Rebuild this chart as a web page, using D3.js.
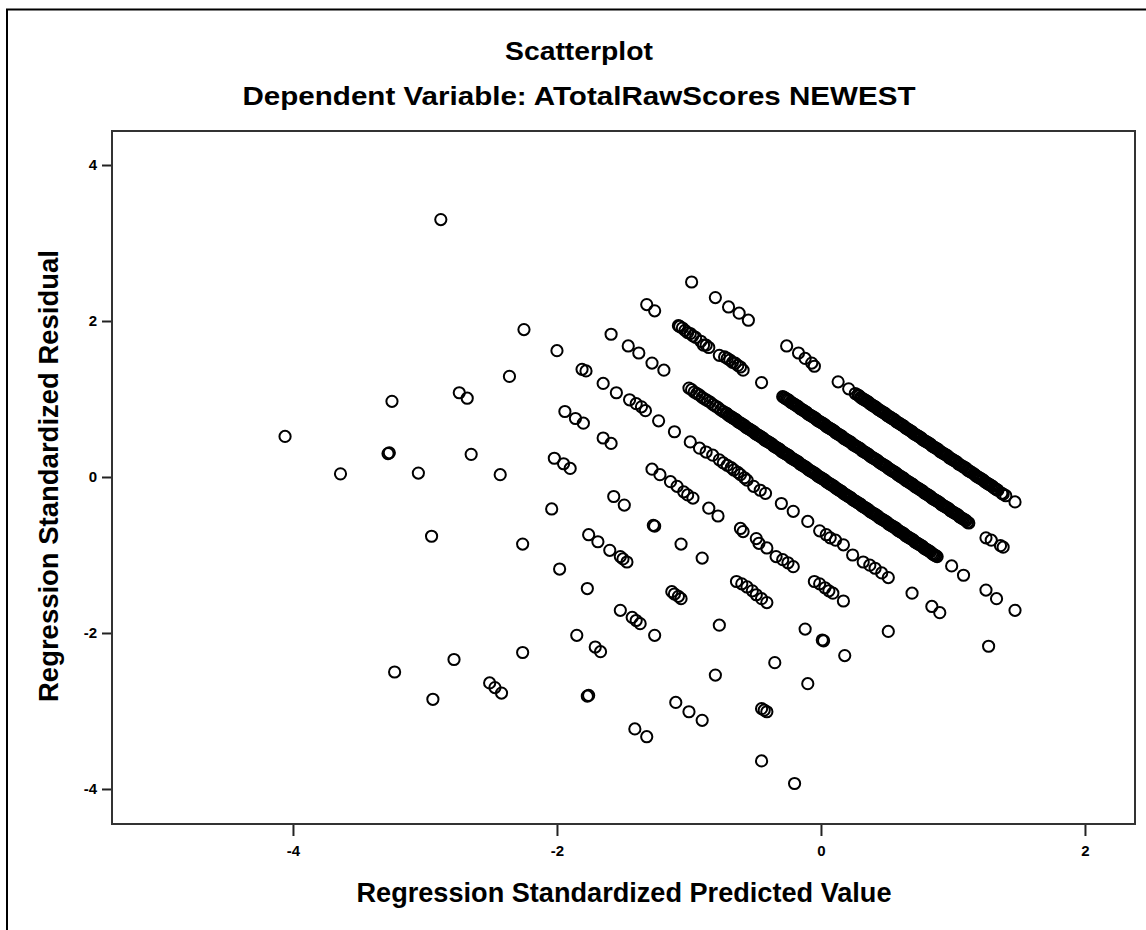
<!DOCTYPE html>
<html>
<head>
<meta charset="utf-8">
<script src="https://cdn.jsdelivr.net/npm/d3@7"></script>
<style>
  body { margin: 0; background: #fff; }
  text { font-family: Arial, "Liberation Sans", sans-serif; }
</style>
</head>
<body>
<div id="scatterplot"></div>
<script>
// Residuos padronizados x valores previstos padronizados
// cada "line_n" e uma faixa diagonal (um valor observado da variavel dependente)

let line_1 = [
    [-0.98,2.50],[-0.80,2.30],[-0.70,2.18],[-0.62,2.10],[-0.55,2.01],
    [-0.26,1.68],[-0.17,1.59],[-0.12,1.52],[-0.07,1.46],[-0.05,1.42],
    [0.13,1.22],[0.21,1.13],[0.26,1.07],
    [0.28,1.05],[0.29,1.04],[0.30,1.02],[0.31,1.01],[0.32,1.00],[0.33,0.99],[0.34,0.98],[0.35,0.97],
    [0.36,0.96],[0.37,0.94],[0.38,0.93],[0.39,0.92],[0.40,0.91],[0.41,0.90],[0.42,0.89],[0.43,0.87],
    [0.44,0.86],[0.45,0.85],[0.46,0.84],[0.47,0.83],[0.48,0.82],[0.49,0.81],[0.50,0.79],[0.51,0.78],
    [0.52,0.77],[0.53,0.76],[0.54,0.75],[0.55,0.74],[0.56,0.73],[0.57,0.71],[0.58,0.70],[0.59,0.69],
    [0.60,0.68],[0.61,0.67],[0.62,0.66],[0.63,0.65],[0.64,0.63],[0.65,0.62],[0.66,0.61],[0.67,0.60],
    [0.68,0.59],[0.69,0.58],[0.70,0.56],[0.71,0.55],[0.72,0.54],[0.73,0.53],[0.74,0.52],[0.75,0.51],
    [0.76,0.50],[0.77,0.48],[0.78,0.47],[0.79,0.46],[0.80,0.45],[0.81,0.44],[0.82,0.43],[0.83,0.42],
    [0.84,0.40],[0.85,0.39],[0.86,0.38],[0.87,0.37],[0.88,0.36],[0.89,0.35],[0.90,0.33],[0.91,0.32],
    [0.92,0.31],[0.93,0.30],[0.94,0.29],[0.95,0.28],[0.96,0.27],[0.97,0.25],[0.98,0.24],[0.99,0.23],
    [1.00,0.22],[1.01,0.21],[1.02,0.20],[1.03,0.19],[1.04,0.17],[1.05,0.16],[1.07,0.14],[1.08,0.13],
    [1.09,0.12],[1.10,0.11],[1.11,0.09],[1.12,0.08],[1.13,0.07],[1.14,0.06],[1.16,0.04],[1.17,0.02],
    [1.18,0.01],[1.19,0.00],[1.20,-0.01],[1.21,-0.02],[1.22,-0.03],[1.23,-0.04],[1.24,-0.06],
    [1.25,-0.07],[1.26,-0.08],[1.27,-0.09],[1.28,-0.10],[1.29,-0.11],[1.30,-0.12],[1.31,-0.14],
    [1.32,-0.15],[1.33,-0.16],[1.34,-0.17],[1.37,-0.21],[1.38,-0.22],[1.40,-0.24],[1.47,-0.32]
]

let line_2 = [
    [-1.32,2.21],[-1.26,2.13],
    [-1.08,1.94],[-1.07,1.93],[-1.05,1.91],[-1.03,1.88],[-1.01,1.85],[-0.99,1.84],[-0.97,1.81],
    [-0.95,1.79],[-0.91,1.74],[-0.89,1.69],[-0.87,1.69],[-0.85,1.66],[-0.77,1.56],[-0.73,1.54],
    [-0.71,1.52],[-0.69,1.50],[-0.67,1.47],[-0.65,1.46],[-0.63,1.43],[-0.61,1.41],[-0.59,1.37],
    [-0.45,1.21],
    [-0.29,1.03],[-0.28,1.02],[-0.27,1.01],[-0.26,1.00],[-0.25,0.99],[-0.24,0.98],[-0.23,0.96],
    [-0.22,0.95],[-0.21,0.94],[-0.20,0.93],[-0.19,0.92],[-0.18,0.91],[-0.17,0.90],[-0.16,0.88],
    [-0.15,0.87],[-0.14,0.86],[-0.13,0.85],[-0.12,0.84],[-0.11,0.83],[-0.10,0.81],[-0.09,0.80],
    [-0.08,0.79],[-0.07,0.78],[-0.06,0.77],[-0.05,0.76],[-0.04,0.75],[-0.03,0.73],[-0.02,0.72],
    [-0.01,0.71],[0.00,0.70],[0.01,0.69],[0.02,0.68],[0.03,0.67],[0.04,0.65],[0.05,0.64],[0.06,0.63],
    [0.07,0.62],[0.08,0.61],[0.09,0.60],[0.10,0.59],[0.11,0.57],[0.12,0.56],[0.13,0.55],[0.14,0.54],
    [0.15,0.53],[0.16,0.52],[0.17,0.50],[0.18,0.49],[0.19,0.48],[0.20,0.47],[0.21,0.46],[0.22,0.45],
    [0.23,0.44],[0.24,0.42],[0.25,0.41],[0.26,0.40],[0.27,0.39],[0.28,0.38],[0.29,0.37],[0.30,0.36],
    [0.31,0.34],[0.32,0.33],[0.33,0.32],[0.34,0.31],[0.35,0.30],[0.36,0.29],[0.37,0.27],[0.38,0.26],
    [0.39,0.25],[0.40,0.24],[0.41,0.23],[0.42,0.22],[0.43,0.21],[0.44,0.19],[0.45,0.18],[0.46,0.17],
    [0.47,0.16],[0.48,0.15],[0.49,0.14],[0.50,0.13],[0.51,0.11],[0.52,0.10],[0.53,0.09],[0.54,0.08],
    [0.55,0.07],[0.56,0.06],[0.57,0.05],[0.58,0.03],[0.59,0.02],[0.60,0.01],[0.61,0.00],[0.62,-0.01],
    [0.63,-0.02],[0.64,-0.04],[0.65,-0.05],[0.66,-0.06],[0.67,-0.07],[0.68,-0.08],[0.69,-0.09],
    [0.70,-0.10],[0.71,-0.12],[0.72,-0.13],[0.73,-0.14],[0.74,-0.15],[0.75,-0.16],[0.76,-0.17],
    [0.77,-0.18],[0.78,-0.20],[0.79,-0.21],[0.80,-0.22],[0.81,-0.23],[0.82,-0.24],[0.83,-0.25],
    [0.84,-0.27],[0.85,-0.28],[0.86,-0.29],[0.87,-0.30],[0.88,-0.31],[0.89,-0.32],[0.90,-0.33],
    [0.91,-0.35],[0.92,-0.36],[0.93,-0.37],[0.94,-0.38],[0.95,-0.39],[0.96,-0.40],[0.97,-0.41],
    [0.98,-0.43],[0.99,-0.44],[1.00,-0.45],[1.01,-0.46],[1.02,-0.47],[1.03,-0.48],[1.04,-0.49],
    [1.05,-0.51],[1.06,-0.52],[1.07,-0.53],[1.08,-0.54],[1.09,-0.55],[1.10,-0.56],[1.11,-0.58],
    [1.12,-0.59],
    [1.25,-0.78],[1.29,-0.81],[1.36,-0.88],[1.38,-0.90]
]

let line_3 = [
    [-2.88,3.30],
    [-1.59,1.83],[-1.46,1.68],[-1.38,1.59],[-1.28,1.46],[-1.19,1.37],
    [-1.00,1.14],[-0.98,1.12],[-0.96,1.09],[-0.94,1.07],[-0.92,1.05],[-0.90,1.02],[-0.88,1.00],
    [-0.86,0.98],[-0.84,0.96],[-0.82,0.93],[-0.80,0.91],[-0.78,0.89],[-0.76,0.86],[-0.74,0.84],
    [-0.72,0.82],
    [-0.71,0.81],[-0.70,0.79],[-0.69,0.78],[-0.68,0.77],[-0.67,0.76],[-0.66,0.75],[-0.65,0.74],
    [-0.64,0.73],[-0.63,0.71],[-0.62,0.70],[-0.61,0.69],[-0.60,0.68],[-0.59,0.67],[-0.58,0.66],
    [-0.57,0.64],[-0.56,0.63],[-0.55,0.62],[-0.54,0.61],[-0.53,0.60],[-0.52,0.59],[-0.51,0.58],
    [-0.50,0.56],[-0.49,0.55],[-0.48,0.54],[-0.47,0.53],[-0.46,0.52],[-0.45,0.51],[-0.44,0.50],
    [-0.43,0.48],[-0.42,0.47],[-0.41,0.46],[-0.40,0.45],[-0.39,0.44],[-0.38,0.43],[-0.37,0.42],
    [-0.36,0.40],[-0.35,0.39],[-0.34,0.38],[-0.33,0.37],[-0.32,0.36],[-0.31,0.35],[-0.30,0.33],
    [-0.29,0.32],[-0.28,0.31],[-0.27,0.30],[-0.26,0.29],[-0.25,0.28],[-0.24,0.27],[-0.23,0.25],
    [-0.22,0.24],[-0.21,0.23],[-0.20,0.22],[-0.19,0.21],[-0.18,0.20],[-0.17,0.19],[-0.16,0.17],
    [-0.15,0.16],[-0.14,0.15],[-0.13,0.14],[-0.12,0.13],[-0.11,0.12],[-0.10,0.10],[-0.09,0.09],
    [-0.08,0.08],[-0.07,0.07],[-0.06,0.06],[-0.05,0.05],[-0.04,0.04],[-0.03,0.02],[-0.02,0.01],
    [-0.01,0.00],[0.00,-0.01],[0.01,-0.02],[0.02,-0.03],[0.03,-0.04],[0.04,-0.06],[0.05,-0.07],
    [0.06,-0.08],[0.07,-0.09],[0.08,-0.10],[0.09,-0.11],[0.10,-0.12],[0.11,-0.14],[0.12,-0.15],
    [0.13,-0.16],[0.14,-0.17],[0.15,-0.18],[0.16,-0.19],[0.17,-0.21],[0.18,-0.22],[0.19,-0.23],
    [0.20,-0.24],[0.21,-0.25],[0.22,-0.26],[0.23,-0.27],[0.24,-0.29],[0.25,-0.30],[0.26,-0.31],
    [0.27,-0.32],[0.28,-0.33],[0.29,-0.34],[0.30,-0.35],[0.31,-0.37],[0.32,-0.38],[0.33,-0.39],
    [0.34,-0.40],[0.35,-0.41],[0.36,-0.42],[0.37,-0.44],[0.38,-0.45],[0.39,-0.46],[0.40,-0.47],
    [0.41,-0.48],[0.42,-0.49],[0.43,-0.50],[0.44,-0.52],[0.45,-0.53],[0.46,-0.54],[0.47,-0.55],
    [0.48,-0.56],[0.49,-0.57],[0.50,-0.58],[0.51,-0.60],[0.52,-0.61],[0.53,-0.62],[0.54,-0.63],
    [0.55,-0.64],[0.56,-0.65],[0.57,-0.66],[0.58,-0.68],[0.59,-0.69],[0.60,-0.70],[0.61,-0.71],
    [0.62,-0.72],[0.63,-0.73],[0.64,-0.75],[0.65,-0.76],[0.66,-0.77],[0.67,-0.78],[0.68,-0.79],
    [0.69,-0.80],[0.70,-0.81],[0.71,-0.83],[0.72,-0.84],[0.73,-0.85],[0.74,-0.86],[0.75,-0.87],
    [0.76,-0.88],[0.77,-0.89],[0.78,-0.91],[0.79,-0.92],[0.80,-0.93],[0.81,-0.94],[0.82,-0.95],
    [0.83,-0.96],[0.84,-0.98],[0.85,-0.99],[0.86,-1.00],[0.87,-1.01],[0.88,-1.02],
    [0.99,-1.14],[1.08,-1.26],[1.25,-1.45],[1.33,-1.56],[1.47,-1.71]
]

let line_4 = [
    [-2.25,1.89],[-2.00,1.62],[-1.81,1.38],[-1.78,1.36],[-1.65,1.20],[-1.55,1.08],[-1.45,0.99],
    [-1.40,0.94],[-1.36,0.90],[-1.33,0.85],[-1.23,0.72],[-1.11,0.58],[-0.99,0.45],[-0.92,0.37],
    [-0.87,0.32],[-0.82,0.28],[-0.77,0.22],[-0.74,0.18],[-0.71,0.15],[-0.68,0.12],[-0.66,0.09],
    [-0.63,0.06],[-0.61,0.03],[-0.58,-0.01],[-0.56,-0.04],[-0.51,-0.12],[-0.46,-0.17],[-0.42,-0.21],
    [-0.30,-0.34],[-0.21,-0.44],[-0.10,-0.57],[-0.01,-0.69],[0.04,-0.74],[0.07,-0.78],[0.11,-0.81],
    [0.17,-0.87],[0.24,-1.00],[0.32,-1.09],[0.37,-1.13],[0.41,-1.17],[0.46,-1.23],[0.51,-1.29],
    [0.69,-1.49],[0.84,-1.66],[0.90,-1.74],[1.27,-2.17]
]

let line_5 = [
    [-2.36,1.29],[-1.94,0.84],[-1.86,0.75],[-1.80,0.69],[-1.65,0.50],[-1.59,0.43],
    [-1.28,0.10],[-1.22,0.03],[-1.14,-0.06],[-1.09,-0.12],[-1.04,-0.19],[-1.01,-0.23],[-0.97,-0.27],
    [-0.85,-0.40],[-0.78,-0.50],[-0.61,-0.66],[-0.59,-0.70],[-0.49,-0.79],[-0.47,-0.85],[-0.41,-0.91],
    [-0.34,-1.02],[-0.29,-1.06],[-0.25,-1.10],[-0.21,-1.15],
    [-0.05,-1.34],[-0.01,-1.37],[0.03,-1.42],[0.06,-1.46],[0.09,-1.49],[0.17,-1.59],[0.51,-1.98]
]

let line_6 = [
    [-2.74,1.08],[-2.68,1.01],[-2.02,0.24],[-1.95,0.17],[-1.90,0.11],[-1.57,-0.25],[-1.49,-0.36],
    [-1.27,-0.62],[-1.26,-0.63],[-1.06,-0.86],[-0.90,-1.04],[-0.64,-1.34],[-0.60,-1.37],[-0.56,-1.41],
    [-0.52,-1.46],[-0.49,-1.51],[-0.45,-1.56],[-0.41,-1.61],[-0.12,-1.95],[0.01,-2.09],[0.02,-2.10],
    [0.18,-2.29]
]

let line_7 = [
    [-3.25,0.97],[-2.65,0.29],[-2.43,0.03],[-2.04,-0.41],[-1.76,-0.74],[-1.69,-0.83],[-1.60,-0.94],
    [-1.52,-1.02],[-1.50,-1.05],[-1.47,-1.09],[-1.13,-1.47],[-1.11,-1.50],[-1.08,-1.53],[-1.06,-1.56],
    [-0.77,-1.90],[-0.35,-2.38],[-0.10,-2.65]
]

let line_8 = [
    [-3.28,0.30],[-3.27,0.31],[-3.05,0.05],[-2.26,-0.86],[-1.98,-1.18],[-1.77,-1.43],[-1.52,-1.71],
    [-1.43,-1.80],[-1.40,-1.84],[-1.37,-1.88],[-1.26,-2.03],[-0.80,-2.54],[-0.45,-2.97],[-0.43,-2.99],
    [-0.41,-3.01]
]

let line_9 = [
    [-4.06,0.52],[-3.64,0.04],[-2.95,-0.76],[-1.85,-2.03],[-1.71,-2.18],[-1.67,-2.24],[-1.10,-2.89],
    [-1.00,-3.01],[-0.90,-3.12],[-0.45,-3.64],[-0.20,-3.93]
]

let line_10 = [
    [-2.26,-2.25],[-1.77,-2.81],[-1.76,-2.80],[-1.41,-3.23],[-1.32,-3.33]
]

let line_11 = [
    [-2.78,-2.34],[-2.51,-2.64],[-2.47,-2.70],[-2.42,-2.77]
]

let line_12 = [
    [-3.23,-2.50],[-2.94,-2.85]
]

let x_ticks = [-4, -2, 0, 2]
let y_ticks = [-4, -2, 0, 2, 4]

let title_text = 'Scatterplot'
let subtitle_text = 'Dependent Variable: ATotalRawScores NEWEST'
let x_label = 'Regression Standardized Predicted Value'
let y_label = 'Regression Standardized Residual'

let scatter_data = [].concat(line_1, line_2, line_3, line_4, line_5, line_6,
    line_7, line_8, line_9, line_10, line_11, line_12)

let scatter_width = 1146;
let scatter_height = 930;
let plot = {left: 112, right: 1135, top: 131, bottom: 824}

// Criando o elemento svg

let scatter_svg = d3.select('#scatterplot')
    .append('svg')
    .attr('width', scatter_width)
    .attr('height', scatter_height);

// moldura externa (so esquerda e topo aparecem)
scatter_svg.append('rect')
    .attr('x', 7).attr('y', 9.5)
    .attr('width', 1300).attr('height', 1100)
    .attr('fill', 'none')
    .attr('stroke', '#000')
    .attr('stroke-width', 2);

// Criando as escalas

let x_scale = d3.scaleLinear()
    .domain([-5.371, 2.379])
    .range([plot.left, plot.right]);

let y_scale = d3.scaleLinear()
    .domain([-4.449, 4.436])
    .range([plot.bottom, plot.top]);

// Criando os eixos

let x_axis = d3.axisBottom(x_scale)
    .tickValues(x_ticks)
    .tickSize(12)
    .tickPadding(9)
    .tickFormat(d => String(d));

let gx = scatter_svg.append('g')
    .attr('transform', 'translate(0,' + plot.bottom + ')')
    .call(x_axis);

let y_axis = d3.axisLeft(y_scale)
    .tickValues(y_ticks)
    .tickSize(10)
    .tickPadding(5)
    .tickFormat(d => String(d));

let gy = scatter_svg.append('g')
    .attr('transform', 'translate(' + plot.left + ',0)')
    .call(y_axis);

[gx, gy].forEach(g => {
    g.attr('font-size', 15).attr('font-family', 'Arial, "Liberation Sans", sans-serif');
    g.select('.domain').remove();
    g.selectAll('.tick line').attr('stroke', '#222').attr('stroke-width', 2);
    g.selectAll('.tick text')
        .attr('fill', '#000')
        .attr('font-weight', 'bold')
        .style('font-size', '15px');
});

// area do grafico
scatter_svg.append('rect')
    .attr('x', plot.left).attr('y', plot.top)
    .attr('width', plot.right - plot.left)
    .attr('height', plot.bottom - plot.top)
    .attr('fill', 'none')
    .attr('stroke', '#333')
    .attr('stroke-width', 2);

// Criando os círculos

scatter_svg.append('g').selectAll('circle')
    .data(scatter_data)
    .enter()
    .append('circle')
    .attr('cx', d => x_scale(d[0]))
    .attr('cy', d => y_scale(d[1]))
    .attr('r', 5.6)
    .attr('fill', 'none')
    .attr('stroke', '#000')
    .attr('stroke-width', 2);

// Titulos

scatter_svg.append('text')
    .attr('x', 579).attr('y', 60)
    .attr('text-anchor', 'middle')
    .attr('font-weight', 'bold')
    .attr('font-size', 26)
    .attr('textLength', 148)
    .attr('lengthAdjust', 'spacingAndGlyphs')
    .text(title_text);

scatter_svg.append('text')
    .attr('x', 579).attr('y', 105)
    .attr('text-anchor', 'middle')
    .attr('font-weight', 'bold')
    .attr('font-size', 26)
    .attr('textLength', 673)
    .attr('lengthAdjust', 'spacingAndGlyphs')
    .text(subtitle_text);

scatter_svg.append('text')
    .attr('x', 624).attr('y', 902)
    .attr('text-anchor', 'middle')
    .attr('font-weight', 'bold')
    .attr('font-size', 27)
    .attr('textLength', 535)
    .attr('lengthAdjust', 'spacingAndGlyphs')
    .text(x_label);

scatter_svg.append('text')
    .attr('transform', 'translate(58,476) rotate(-90)')
    .attr('text-anchor', 'middle')
    .attr('font-weight', 'bold')
    .attr('font-size', 27)
    .attr('textLength', 452)
    .attr('lengthAdjust', 'spacingAndGlyphs')
    .text(y_label);
</script>
</body>
</html>
